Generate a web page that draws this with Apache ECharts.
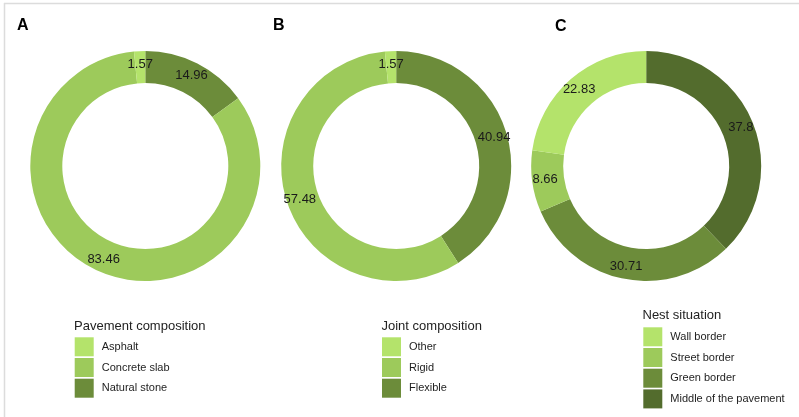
<!DOCTYPE html>
<html>
<head>
<meta charset="utf-8">
<script src="https://cdn.jsdelivr.net/npm/echarts@6/dist/echarts.min.js"></script>
<style>html,body{margin:0;padding:0;background:#fff;}#c{width:799px;height:417px;}</style>
</head>
<body>
<div id="c"></div>
<script>
// Data (clockwise order from 12 o'clock as drawn)
var pavementNames = ['Natural stone', 'Concrete slab', 'Asphalt'];
var pavementValues = [14.96, 83.46, 1.57];
var pavementLegend = ['Asphalt', 'Concrete slab', 'Natural stone'];

var jointNames = ['Flexible', 'Rigid', 'Other'];
var jointValues = [40.94, 57.48, 1.57];
var jointLegend = ['Other', 'Rigid', 'Flexible'];

var nestNames = ['Middle of the pavement', 'Green border', 'Street border', 'Wall border'];
var nestValues = [37.8, 30.71, 8.66, 22.83];
var nestLegend = ['Wall border', 'Street border', 'Green border', 'Middle of the pavement'];

var colorMap = {
  'Asphalt': '#b4e36b', 'Other': '#b4e36b', 'Wall border': '#b4e36b',
  'Concrete slab': '#9dca5b', 'Rigid': '#9dca5b', 'Street border': '#9dca5b',
  'Natural stone': '#6c8c3a', 'Flexible': '#6c8c3a', 'Green border': '#6c8c3a',
  'Middle of the pavement': '#536c2d'
};

function mk(names, values) {
  return names.map(function (n, i) {
    return { name: n, value: values[i], itemStyle: { color: colorMap[n] } };
  });
}

function pie(center, names, values) {
  return {
    type: 'pie',
    center: center,
    radius: [83, 115],
    startAngle: 90,
    clockwise: true,
    avoidLabelOverlap: false,
    silent: true,
    itemStyle: { borderWidth: 0 },
    label: {
      show: true,
      position: 'inside',
      formatter: function (p) { return p.value; },
      color: '#1a1a1a',
      fontSize: 13,
      fontFamily: 'Liberation Sans, Arial, sans-serif'
    },
    labelLine: { show: false },
    emphasis: { disabled: true },
    data: mk(names, values)
  };
}

function legend(left, top, data) {
  return {
    orient: 'vertical',
    left: left,
    top: top,
    padding: 0,
    itemWidth: 19,
    itemHeight: 19,
    itemGap: 1.7,
    icon: 'rect',
    selectedMode: false,
    data: data,
    textStyle: {
      fontSize: 11,
      color: '#1e1e1e',
      fontFamily: 'Liberation Sans, Arial, sans-serif',
      padding: [0, 0, 0, 3]
    }
  };
}

var ff = 'Liberation Sans, Arial, sans-serif';
function ttl(text, left, top, size, bold) {
  return {
    text: text, left: left, top: top, padding: 0,
    textStyle: { fontSize: size, fontWeight: bold ? 'bold' : 'normal', color: bold ? '#000' : '#222', fontFamily: ff }
  };
}

var chart = echarts.init(document.getElementById('c'));
chart.setOption({
  animation: false,
  backgroundColor: '#fff',
  title: [
    ttl('A', 17, 18, 16, true),
    ttl('B', 273, 18, 16, true),
    ttl('C', 555, 18.5, 16, true),
    ttl('Pavement composition', 74, 320, 13, false),
    ttl('Joint composition', 381.5, 320, 13, false),
    ttl('Nest situation', 642.5, 309, 13, false)
  ],
  legend: [
    legend(74.7, 337.3, pavementLegend),
    legend(382, 337.3, jointLegend),
    legend(643.3, 327.3, nestLegend)
  ],
  graphic: [
    { type: 'line', shape: { x1: 4, y1: 3.5, x2: 799, y2: 3.5 }, style: { stroke: '#dcdcdc', lineWidth: 1.5 }, silent: true },
    { type: 'line', shape: { x1: 4.5, y1: 3, x2: 4.5, y2: 417 }, style: { stroke: '#dcdcdc', lineWidth: 1.5 }, silent: true }
  ],
  series: [
    pie([145.3, 166], pavementNames, pavementValues),
    pie([396.2, 166], jointNames, jointValues),
    pie([646.2, 166], nestNames, nestValues)
  ]
});
</script>
</body>
</html>
